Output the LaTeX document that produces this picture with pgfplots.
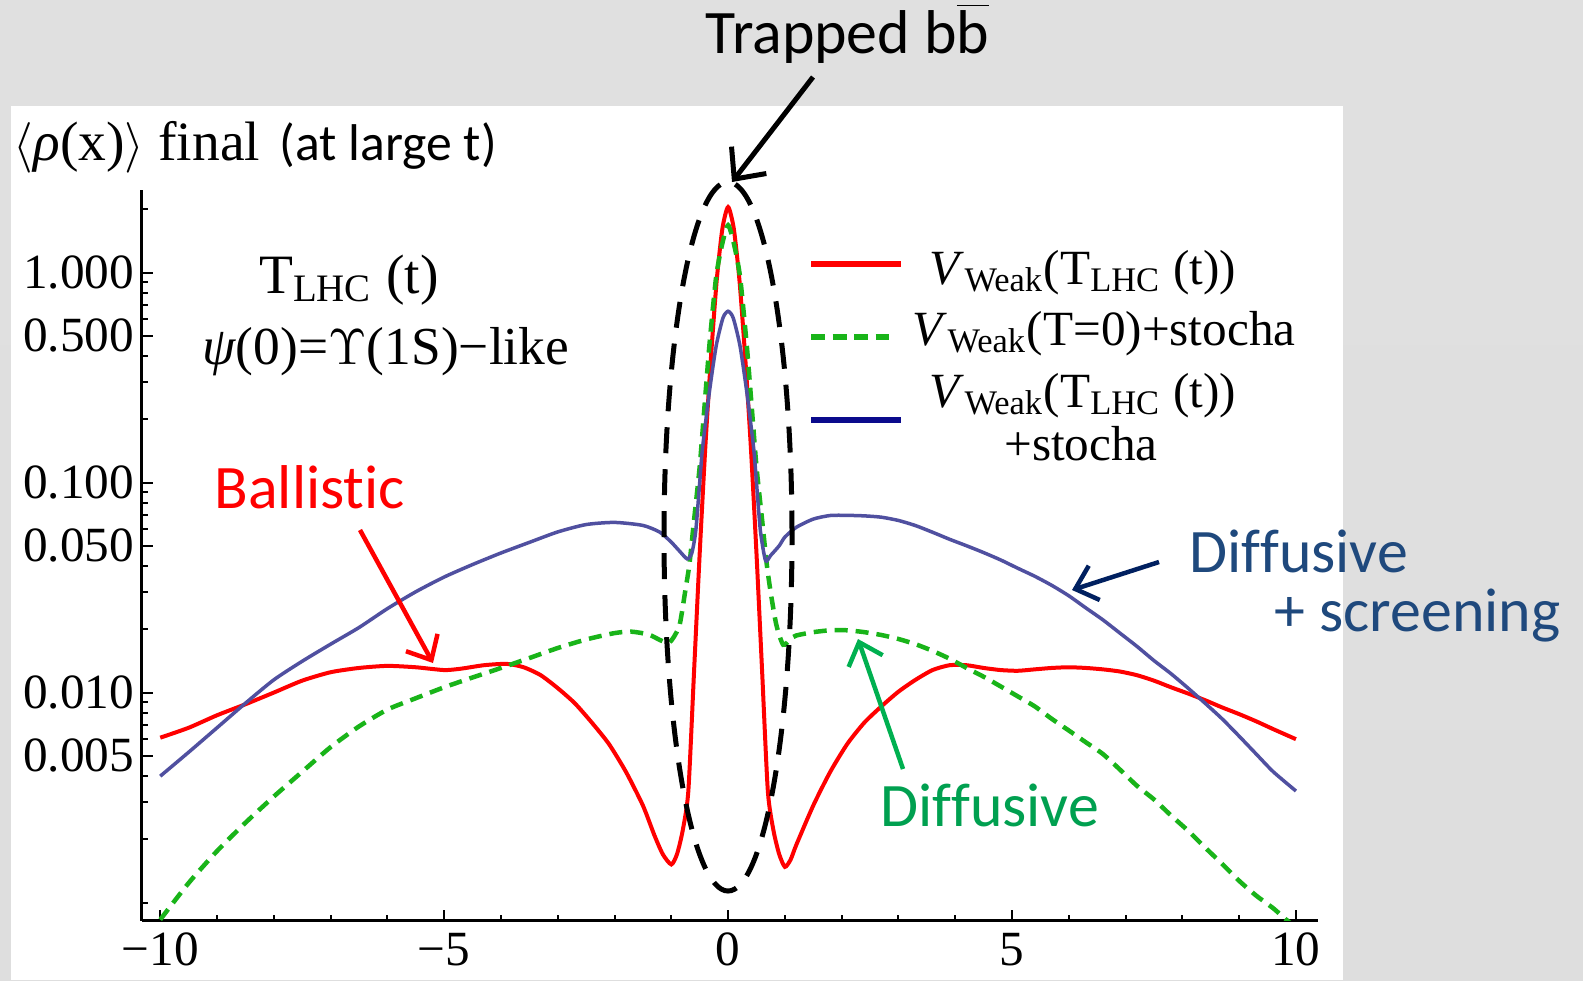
\documentclass[border=0pt]{standalone}
\usepackage{fontspec}
\setmainfont{Liberation Serif}
\newfontfamily\cali[Ligatures=NoCommon]{Carlito}
\usepackage{pgfplots}
\pgfplotsset{compat=1.18}
\usetikzlibrary{arrows.meta}

\definecolor{slideblue}{RGB}{31,73,125}
\definecolor{navyarrow}{RGB}{0,32,96}
\definecolor{difgreen}{RGB}{0,160,80}
\definecolor{arrgreen}{RGB}{0,176,80}
\definecolor{mgreen}{RGB}{25,180,25}
\definecolor{mblue}{RGB}{80,80,160}
\definecolor{legblue}{RGB}{10,10,140}

\newcommand\VW{\textit{V}\textsubscript{Weak}}
\newcommand\TL{T\textsubscript{LHC}}

% values: x, <rho(x)>
\pgfplotstableread{
x y
-10 0.0061
-9.5 0.0068
-9 0.0078
-8.5 0.0088
-8 0.0100
-7.5 0.0114
-7 0.0125
-6.5 0.0131
-6 0.0134
-5.5 0.0132
-5 0.0128
-4.7 0.0130
-4.3 0.0135
-3.9 0.0137
-3.6 0.0132
-3.3 0.0121
-3 0.0105
-2.7 0.0089
-2.4 0.0072
-2.1 0.0057
-1.8 0.0042
-1.5 0.0029
-1.3 0.0021
-1.15 0.0017
-1.0 0.00152
-0.9 0.0017
-0.8 0.0022
-0.7 0.0034
-0.6 0.0125
-0.5 0.046
-0.4 0.149
-0.3 0.40
-0.2 0.92
-0.1 1.62
0 2.05
0.1 1.62
0.2 0.92
0.3 0.40
0.4 0.149
0.5 0.046
0.6 0.0125
0.7 0.0034
0.8 0.0022
0.9 0.0017
1.0 0.00148
1.1 0.0016
1.2 0.00188
1.5 0.0029
1.8 0.0042
2.1 0.0057
2.4 0.0072
2.7 0.0086
3.0 0.0101
3.3 0.0115
3.6 0.0128
3.9 0.0135
4.2 0.0135
4.5 0.0131
4.8 0.0128
5.1 0.0127
5.4 0.0129
5.7 0.0131
6.0 0.0132
6.3 0.0131
6.6 0.0129
6.9 0.0126
7.2 0.0121
7.5 0.0114
7.8 0.0106
8.1 0.0099
8.4 0.0092
8.7 0.0085
9.0 0.0079
9.3 0.0073
9.6 0.0067
10 0.0060
}\redtab

\pgfplotstableread{
x y
-10 0.00083
-9.5 0.00124
-9 0.00176
-8.5 0.0024
-8 0.0032
-7.5 0.0042
-7 0.0055
-6.5 0.0069
-6 0.0083
-5.5 0.0094
-5 0.0106
-4.5 0.0118
-4 0.0131
-3.5 0.0146
-3 0.0163
-2.5 0.0179
-2 0.0192
-1.7 0.0195
-1.4 0.0189
-1.2 0.0178
-1.05 0.0172
-0.95 0.0185
-0.85 0.0212
-0.75 0.031
-0.68 0.041
-0.6 0.066
-0.5 0.119
-0.42 0.222
-0.33 0.447
-0.21 0.957
-0.1 1.38
0 1.68
0.1 1.38
0.21 0.957
0.33 0.447
0.42 0.222
0.5 0.119
0.6 0.066
0.68 0.041
0.75 0.030
0.85 0.021
0.97 0.0169
1.1 0.0180
1.2 0.0187
1.5 0.0194
1.8 0.0198
2.1 0.0198
2.4 0.0194
2.7 0.0188
3.0 0.0180
3.3 0.0170
3.6 0.0158
3.9 0.0145
4.2 0.0131
4.5 0.0119
4.8 0.0107
5.1 0.0096
5.4 0.0086
5.7 0.0075
6.0 0.0066
6.3 0.0058
6.6 0.0051
6.9 0.0043
7.2 0.0036
7.5 0.0031
7.8 0.0026
8.1 0.0022
8.4 0.00183
8.7 0.00153
9.0 0.00127
9.3 0.00108
9.6 0.00094
9.85 0.00082
10 0.00076
}\greentab

\pgfplotstableread{
x y
-10 0.0040
-9.5 0.0052
-9 0.0068
-8.5 0.0089
-8 0.0115
-7.5 0.0141
-7 0.0170
-6.5 0.0204
-6 0.0251
-5.5 0.0302
-5 0.0355
-4.5 0.0407
-4 0.0462
-3.5 0.0519
-3 0.0582
-2.5 0.0631
-2 0.0646
-1.5 0.0625
-1.2 0.0580
-1.0 0.0520
-0.85 0.0470
-0.72 0.0433
-0.64 0.046
-0.57 0.0586
-0.5 0.100
-0.45 0.146
-0.33 0.269
-0.21 0.447
-0.09 0.608
0 0.654
0.09 0.608
0.21 0.447
0.33 0.269
0.45 0.146
0.5 0.100
0.57 0.0586
0.66 0.0425
0.75 0.045
0.9 0.050
1.0 0.055
1.2 0.0612
1.5 0.067
1.8 0.0697
2.1 0.0698
2.4 0.0694
2.7 0.0684
3.0 0.0660
3.3 0.0624
3.6 0.0580
3.9 0.0537
4.2 0.0500
4.5 0.0464
4.8 0.0428
5.1 0.0391
5.4 0.0358
5.7 0.0324
6.0 0.0289
6.3 0.0253
6.6 0.0222
6.9 0.0192
7.2 0.0166
7.5 0.0142
7.8 0.0123
8.1 0.0105
8.4 0.0089
8.7 0.0075
9.0 0.0062
9.3 0.0051
9.6 0.0042
10 0.0034
}\bluetab

\begin{document}
\begin{tikzpicture}
% slide background and the white plot image
\shade[top color=black!12, middle color=black!6, bottom color=black!13] (0,0) rectangle (158.3mm,98mm);
\fill[white] (1.1mm,0) rectangle (134.3mm,87.4mm);

\begin{axis}[
  at={(14.15mm,5.93mm)}, anchor=south west,
  scale only axis, width=117.6mm, height=73.07mm,
  ymode=log,
  xmin=-10.33, xmax=10.38, ymin=8.2e-4, ymax=2.47,
  axis lines=left,
  axis line style={line width=0.25mm, -},
  tick align=inside,
  major tick length=1.1mm, minor tick length=0.6mm,
  tick style={black, line width=0.2mm},
  xtick={-10,-5,0,5,10},
  xticklabels={−10,−5,0,5,10},
  minor xtick={-9,-8,-7,-6,-4,-3,-2,-1,1,2,3,4,6,7,8,9},
  ytick={0.005,0.01,0.05,0.1,0.5,1},
  yticklabels={0.005,0.010,0.050,0.100,0.500,1.000},
  minor ytick={0.001,0.002,0.003,0.004,0.006,0.007,0.008,0.009,
               0.02,0.03,0.04,0.06,0.07,0.08,0.09,
               0.2,0.3,0.4,0.6,0.7,0.8,0.9,2},
  ticklabel style={font=\fontsize{14}{16}\selectfont},
  yticklabel style={xshift=0.5mm},
]
\addplot[red, line width=0.4mm, smooth, tension=0.4] table[x=x, y=y] {\redtab};
\addplot[mgreen, line width=0.45mm, dash pattern=on 1.3mm off 0.8mm, smooth, tension=0.4] table[x=x, y=y] {\greentab};
\addplot[mblue, line width=0.35mm, smooth, tension=0.4] table[x=x, y=y] {\bluetab};
\end{axis}

% trapped region
\draw[black, line width=0.5mm, dash pattern=on 2.6mm off 1.6mm] (72.8mm,44.35mm) ellipse [x radius=6.4mm, y radius=35.45mm];
\node[anchor=base, inner sep=0, font=\cali\fontsize{17.6}{20}\selectfont] at (84.75mm,92.67mm) {Trapped b$\overline{\mbox{b}}$};
\draw[line width=0.5mm, -{Straight Barb[length=2.4mm, width=4.4mm]}] (81.3mm,90.3mm) -- (73.2mm,79.8mm);

% Mathematica labels
\node[anchor=base west, inner sep=0, font=\fontsize{15.8}{19}\selectfont] at (1.3mm,82mm) {$\langle${\itshape ρ}(x)$\rangle$ final};
\node[anchor=base west, inner sep=0, font=\cali\fontsize{14.7}{17}\selectfont] at (27.9mm,82mm) {(at large t)};
\node[anchor=base, inner sep=0, font=\fontsize{15.8}{18}\selectfont] at (34.9mm,68.7mm) {\TL{} (t)};
\node[anchor=base, inner sep=0, font=\fontsize{15.2}{18}\selectfont] at (38.6mm,61.6mm) {{\itshape ψ}(0)=$\Upsilon$(1S)−like};

% legend
\draw[red, line width=0.55mm] (81.1mm,71.6mm) -- (90.1mm,71.6mm);
\draw[mgreen, line width=0.55mm, dash pattern=on 1.4mm off 0.75mm] (81.1mm,64.3mm) -- (88.9mm,64.3mm);
\draw[legblue, line width=0.55mm] (81.1mm,56.0mm) -- (90.1mm,56.0mm);
\begin{scope}[every node/.style={inner sep=0, font=\fontsize{14}{17}\selectfont}]
\node[anchor=base west] at (92.9mm,69.6mm) {\VW(\TL{} (t))};
\node[anchor=base west] at (91.2mm,63.5mm) {\VW(T=0)+stocha};
\node[anchor=base west] at (92.9mm,57.3mm) {\VW(\TL{} (t))};
\node[anchor=base] at (108.1mm,52.0mm) {+stocha};
\end{scope}

% slide annotations
\node[anchor=base west, inner sep=0, text=red, font=\cali\fontsize{17.6}{20}\selectfont] at (21.4mm,47.2mm) {Ballistic};
\draw[red, line width=0.45mm, -{Straight Barb[length=2mm, width=3.6mm]}] (36.0mm,45.0mm) -- (43.3mm,31.7mm);
\node[anchor=base west, inner sep=0, text=slideblue, font=\cali\fontsize{17.6}{20}\selectfont] at (118.9mm,40.8mm) {Diffusive};
\node[anchor=base west, inner sep=0, text=slideblue, font=\cali\fontsize{17.6}{20}\selectfont] at (127.4mm,34.9mm) {+ screening};
\draw[navyarrow, line width=0.45mm, -{Straight Barb[length=2mm, width=3.6mm]}] (115.9mm,41.8mm) -- (107.2mm,39.0mm);
\node[anchor=base west, inner sep=0, text=difgreen, font=\cali\fontsize{17.6}{20}\selectfont] at (88.0mm,15.4mm) {Diffusive};
\draw[arrgreen, line width=0.45mm, -{Straight Barb[length=2mm, width=3.6mm]}] (90.3mm,21.1mm) -- (85.8mm,34.1mm);

\pgfresetboundingbox
\path (0,0) rectangle (158.3mm,98mm);
\end{tikzpicture}
\end{document}
